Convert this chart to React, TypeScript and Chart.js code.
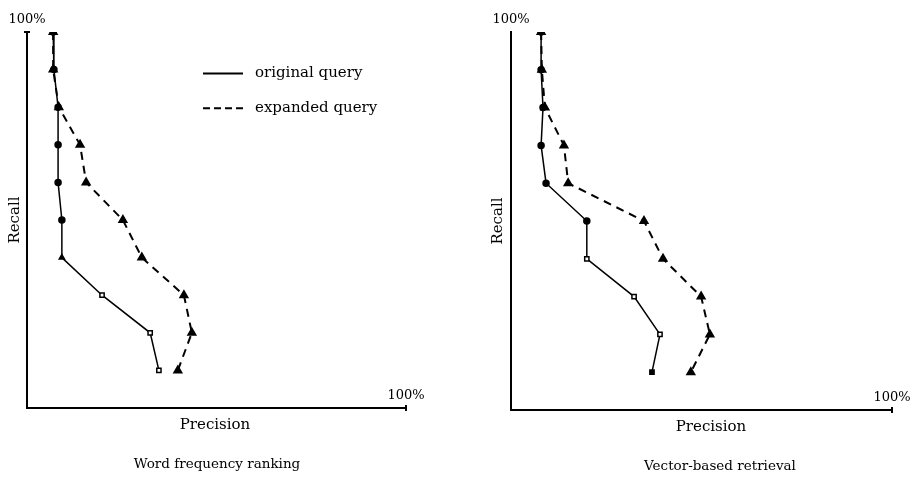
import React, { useEffect, useRef } from "react";
import { Chart, registerables } from "chart.js";

Chart.register(...registerables);

// Recall levels (y) and precision values (x, in %)
const recallLevels = [100, 90, 80, 70, 60, 50, 40, 30, 20, 10];
const wordOriginal = [6.9, 7.1, 8.2, 8.2, 8.2, 9.2, 9.2, 19.8, 32.5, 34.8];
const wordExpanded = [6.9, 6.9, 8.4, 14.0, 15.6, 25.3, 30.3, 41.4, 43.5, 39.8];
const vectorOriginal = [7.9, 7.9, 8.4, 7.9, 9.2, 19.9, 19.9, 32.3, 39.1, 37.0];
const vectorExpanded = [7.9, 8.1, 8.9, 13.9, 15.0, 34.9, 39.9, 49.9, 52.2, 47.2];

const wordOrigStyles = ["circle", "circle", "circle", "circle", "circle", "circle", "triangle", "rect", "rect", "rect"];
const wordOrigFill = ["#000", "#000", "#000", "#000", "#000", "#000", "#000", "#fff", "#fff", "#fff"];
const vecOrigStyles = ["circle", "circle", "circle", "circle", "circle", "circle", "rect", "rect", "rect", "rect"];
const vecOrigFill = ["#000", "#000", "#000", "#000", "#000", "#000", "#fff", "#fff", "#fff", "#000"];

const legendLabels = ["original query", "expanded query"];
const axisMaxLabel = "100%";

const FONT = "'DejaVu Serif', 'Liberation Serif', serif";

type PanelProps = {
  width: number;
  title: string;
  original: number[];
  expanded: number[];
  origStyles: string[];
  origFill: string[];
  padding: { left: number; right: number; top: number; bottom: number };
  showLegend: boolean;
  recallX: number;
  precisionX: number;
  titleX: number;
  topCap: boolean;
};

function Panel(p: PanelProps) {
  const ref = useRef<HTMLCanvasElement | null>(null);
  useEffect(() => {
    if (!ref.current) return;
    const toPts = (arr: number[]) => arr.map((v, i) => ({ x: v, y: recallLevels[i] }));
    const textPlugin = {
      id: "texts",
      afterDraw(chart: any) {
        const ctx = chart.ctx;
        const xs = chart.scales.x;
        const ys = chart.scales.y;
        const x0 = xs.getPixelForValue(0);
        const x1 = xs.getPixelForValue(100);
        const y0 = ys.getPixelForValue(0);
        const y1 = ys.getPixelForValue(100);
        ctx.save();
        ctx.fillStyle = "#000";
        ctx.strokeStyle = "#000";
        ctx.font = `13px ${FONT}`;
        // 100% labels
        ctx.textAlign = "center";
        ctx.textBaseline = "alphabetic";
        ctx.fillText(axisMaxLabel, x0, y1 - 9);
        ctx.fillText(axisMaxLabel, x1, y0 - 9);
        // caps
        ctx.lineWidth = 2;
        if (p.topCap) {
          ctx.beginPath();
          ctx.moveTo(x0 - 3, y1);
          ctx.lineTo(x0 + 3, y1);
          ctx.stroke();
        }
        ctx.beginPath();
        ctx.moveTo(x1, y0 - 3);
        ctx.lineTo(x1, y0 + 3);
        ctx.stroke();
        // Recall
        ctx.font = `15px ${FONT}`;
        ctx.save();
        ctx.translate(p.recallX, (y0 + y1) / 2);
        ctx.rotate(-Math.PI / 2);
        ctx.textAlign = "center";
        ctx.textBaseline = "middle";
        ctx.fillText("Recall", 0, 0);
        ctx.restore();
        // Precision
        ctx.textAlign = "center";
        ctx.textBaseline = "middle";
        ctx.fillText("Precision", p.precisionX, y0 + 17);
        ctx.font = `13.5px ${FONT}`;
        ctx.fillText(p.title, p.titleX, y0 + 56);
        // legend
        if (p.showLegend) {
          ctx.font = `15px ${FONT}`;
          ctx.textAlign = "left";
          const lx = 203;
          const rows = [ys.getPixelForValue(90) + 4, ys.getPixelForValue(80) + 1];
          rows.forEach((ry: number, i: number) => {
            ctx.beginPath();
            ctx.lineWidth = 2;
            ctx.setLineDash(i === 0 ? [] : [7, 4]);
            ctx.moveTo(lx, ry);
            ctx.lineTo(lx + 40, ry);
            ctx.stroke();
            ctx.setLineDash([]);
            ctx.fillText(legendLabels[i], lx + 52, ry);
          });
        }
        ctx.restore();
      },
    };
    const chart = new Chart(ref.current, {
      type: "scatter",
      data: {
        datasets: [
          {
            label: legendLabels[0],
            data: toPts(p.original),
            showLine: true,
            borderColor: "#000",
            borderWidth: 1.5,
            pointStyle: p.origStyles as any,
            pointBackgroundColor: p.origFill,
            pointBorderColor: "#000",
            pointBorderWidth: 1.5,
            pointRadius: 3,
          },
          {
            label: legendLabels[1],
            data: toPts(p.expanded),
            showLine: true,
            borderColor: "#000",
            borderWidth: 2,
            borderDash: [8, 6],
            pointStyle: "triangle",
            pointBackgroundColor: "#000",
            pointBorderColor: "#000",
            pointRadius: 4,
          },
        ],
      },
      options: {
        animation: false,
        responsive: false,
        layout: { padding: p.padding },
        plugins: { legend: { display: false }, tooltip: { enabled: false }, title: { display: false } },
        scales: {
          x: {
            type: "linear",
            min: 0,
            max: 100,
            grid: { display: false, drawTicks: false },
            ticks: { display: false },
            border: { display: true, color: "#000", width: 2 },
          },
          y: {
            type: "linear",
            min: 0,
            max: 100,
            grid: { display: false, drawTicks: false },
            ticks: { display: false },
            border: { display: true, color: "#000", width: 2 },
          },
        },
      },
      plugins: [textPlugin],
    });
    return () => chart.destroy();
  }, []);
  return (
    <canvas ref={ref} width={p.width} height={479} style={{ width: p.width, height: 479, display: "block" }} />
  );
}

export default function App() {
  return (
    <div style={{ position: "absolute", left: 0, top: 0, width: 911, height: 479, display: "flex", background: "#fff" }}>
      <Panel
        width={455}
        title="Word frequency ranking"
        original={wordOriginal}
        expanded={wordExpanded}
        origStyles={wordOrigStyles}
        origFill={wordOrigFill}
        padding={{ left: 27, right: 49, top: 32, bottom: 71 }}
        showLegend={true}
        recallX={15}
        precisionX={215}
        titleX={217}
        topCap={true}
      />
      <Panel
        width={456}
        title="Vector-based retrieval"
        original={vectorOriginal}
        expanded={vectorExpanded}
        origStyles={vecOrigStyles}
        origFill={vecOrigFill}
        padding={{ left: 56, right: 19, top: 32, bottom: 69 }}
        showLegend={false}
        recallX={43}
        precisionX={256}
        titleX={265}
        topCap={false}
      />
    </div>
  );
}
